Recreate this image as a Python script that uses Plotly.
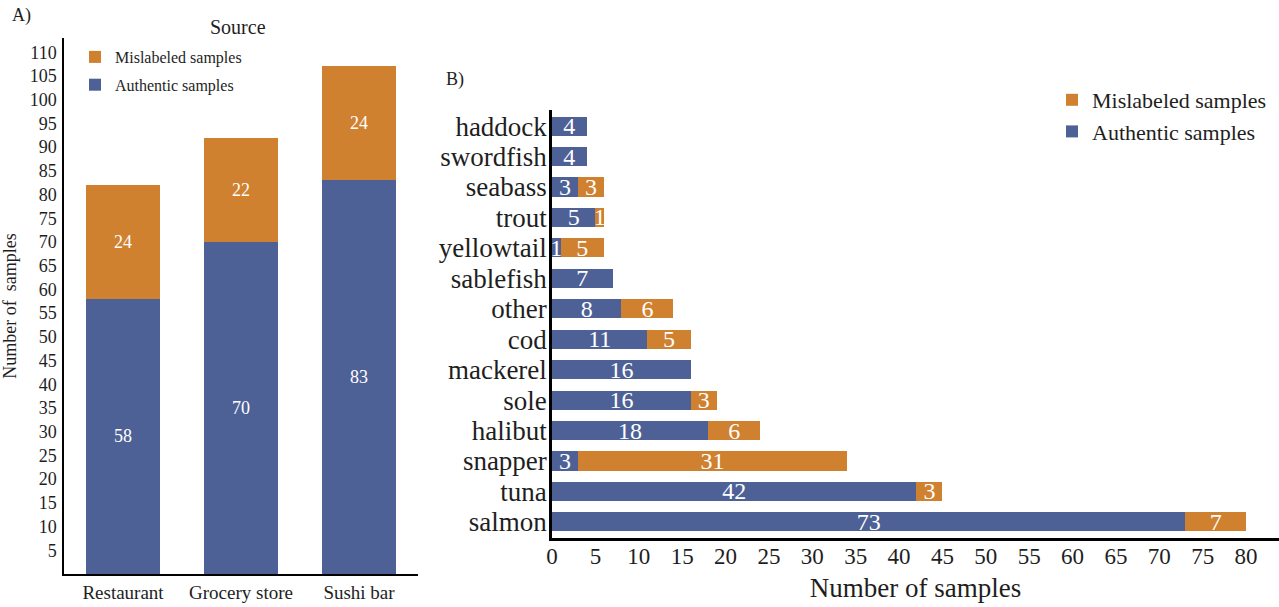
import plotly.graph_objects as go
import plotly.io as pio

# Panel A data
sources = ["Restaurant", "Grocery store", "Sushi bar"]
src_authentic = [58, 70, 83]
src_mislabeled = [24, 22, 24]

# Panel B data (top to bottom as shown)
species = ["haddock", "swordfish", "seabass", "trout", "yellowtail", "sablefish",
           "other", "cod", "mackerel", "sole", "halibut", "snapper", "tuna", "salmon"]
sp_authentic = [4, 4, 3, 5, 1, 7, 8, 11, 16, 16, 18, 3, 42, 73]
sp_mislabeled = [0, 0, 3, 1, 5, 0, 6, 5, 0, 3, 6, 31, 3, 7]

left_ticks = list(range(5, 111, 5))
right_ticks = list(range(0, 81, 5))

BLUE = "#4E6196"
ORANGE = "#CF8130"
FONT = "serif"

# template with dark text colour, so individual fonts carry no colour
tmpl = go.layout.Template(pio.templates["plotly"])
tmpl.layout.font.color = "#1e1e1e"
tmpl.layout.font.family = FONT

def lab(v):
    return [str(x) if x else "" for x in v]

fig = go.Figure()

fig.add_trace(go.Bar(x=sources, y=src_authentic, name="Authentic samples",
                     marker=dict(color=BLUE, line=dict(width=0)),
                     text=lab(src_authentic), textposition="inside", insidetextanchor="middle",
                     textangle=0, constraintext="none",
                     insidetextfont=dict(color="white", size=18, family=FONT),
                     xaxis="x", yaxis="y", legend="legend", legendgroup="a1", legendrank=2))
fig.add_trace(go.Bar(x=sources, y=src_mislabeled, name="Mislabeled samples",
                     marker=dict(color=ORANGE, line=dict(width=0)),
                     text=lab(src_mislabeled), textposition="inside", insidetextanchor="middle",
                     textangle=0, constraintext="none",
                     insidetextfont=dict(color="white", size=18, family=FONT),
                     xaxis="x", yaxis="y", legend="legend", legendgroup="a2", legendrank=1))

fig.add_trace(go.Bar(y=species, x=sp_authentic, orientation="h", name="Authentic samples",
                     marker=dict(color=BLUE, line=dict(width=0)),
                     text=lab(sp_authentic), textposition="inside", insidetextanchor="middle",
                     textangle=0, constraintext="none",
                     insidetextfont=dict(color="white", size=24, family=FONT),
                     xaxis="x2", yaxis="y2", legend="legend2", legendgroup="b1", legendrank=2))
fig.add_trace(go.Bar(y=species, x=sp_mislabeled, orientation="h", name="Mislabeled samples",
                     marker=dict(color=ORANGE, line=dict(width=0)),
                     text=lab(sp_mislabeled), textposition="inside", insidetextanchor="middle",
                     textangle=0, constraintext="none",
                     insidetextfont=dict(color="white", size=24, family=FONT),
                     xaxis="x2", yaxis="y2", legend="legend2", legendgroup="b2", legendrank=1))

W, H = 1279, 607
def px(x):
    return x / W
def py(y):
    return 1 - y / H

fig.update_layout(
    template=tmpl,
    width=W, height=H, barmode="stack", bargap=0.37,
    margin=dict(l=0, r=0, t=0, b=0, autoexpand=False),
    plot_bgcolor="white", paper_bgcolor="white",
    xaxis=dict(domain=[px(64), px(418)], anchor="y", range=[-0.5, 2.5], automargin=False,
               showline=True, linecolor="black", linewidth=1.5, showgrid=False,
               ticks="", tickfont=dict(size=19, family=FONT), zeroline=False),
    yaxis=dict(domain=[py(574), py(38)], anchor="x", range=[0, 113], automargin=False,
               tickmode="array", tickvals=left_ticks, showline=True, linecolor="black", linewidth=1.5,
               showgrid=False, ticks="", tickfont=dict(size=18, family=FONT), zeroline=False,
               ticklabelstandoff=2,
               title=dict(text="Number of  samples", font=dict(size=18, family=FONT), standoff=9)),
    xaxis2=dict(domain=[px(552), 1.0], anchor="y2", range=[0, 83.8], automargin=False,
                tickmode="array", tickvals=right_ticks, showline=True, linecolor="black", linewidth=2.5,
                showgrid=False, ticks="", tickfont=dict(size=23, family=FONT), zeroline=False,
                ticklabelstandoff=-4,
                title=dict(text="Number of samples", font=dict(size=27, family=FONT), standoff=10)),
    yaxis2=dict(domain=[py(538), py(110)], anchor="x2", range=[-0.53, 13.53], automargin=False,
                categoryorder="array", categoryarray=species[::-1],
                tickmode="array", tickvals=species, ticktext=species,
                showline=True, linecolor="black", linewidth=2.5, showgrid=False,
                ticklabelstandoff=-3,
                ticks="", tickfont=dict(size=27, family=FONT), zeroline=False),
    legend=dict(x=px(75), y=py(40), xanchor="left", yanchor="top",
                traceorder="grouped", font=dict(size=16, family=FONT),
                bgcolor="rgba(0,0,0,0)", itemwidth=30, tracegroupgap=4),
    legend2=dict(x=px(1052), y=py(79), xanchor="left", yanchor="top",
                 traceorder="grouped", font=dict(size=22, family=FONT),
                 bgcolor="rgba(0,0,0,0)", itemwidth=30, tracegroupgap=0),
    annotations=[
        dict(text="A)", x=px(10), y=py(15), xref="paper", yref="paper",
             xanchor="left", yanchor="middle", showarrow=False, font=dict(size=18, family=FONT)),
        dict(text="Source", x=px(238), y=py(27), xref="paper", yref="paper",
             xanchor="center", yanchor="middle", showarrow=False, font=dict(size=20, family=FONT)),
        dict(text="B)", x=px(444), y=py(80), xref="paper", yref="paper",
             xanchor="left", yanchor="middle", showarrow=False, font=dict(size=18, family=FONT)),
    ],
)

fig.write_html("out.html")
